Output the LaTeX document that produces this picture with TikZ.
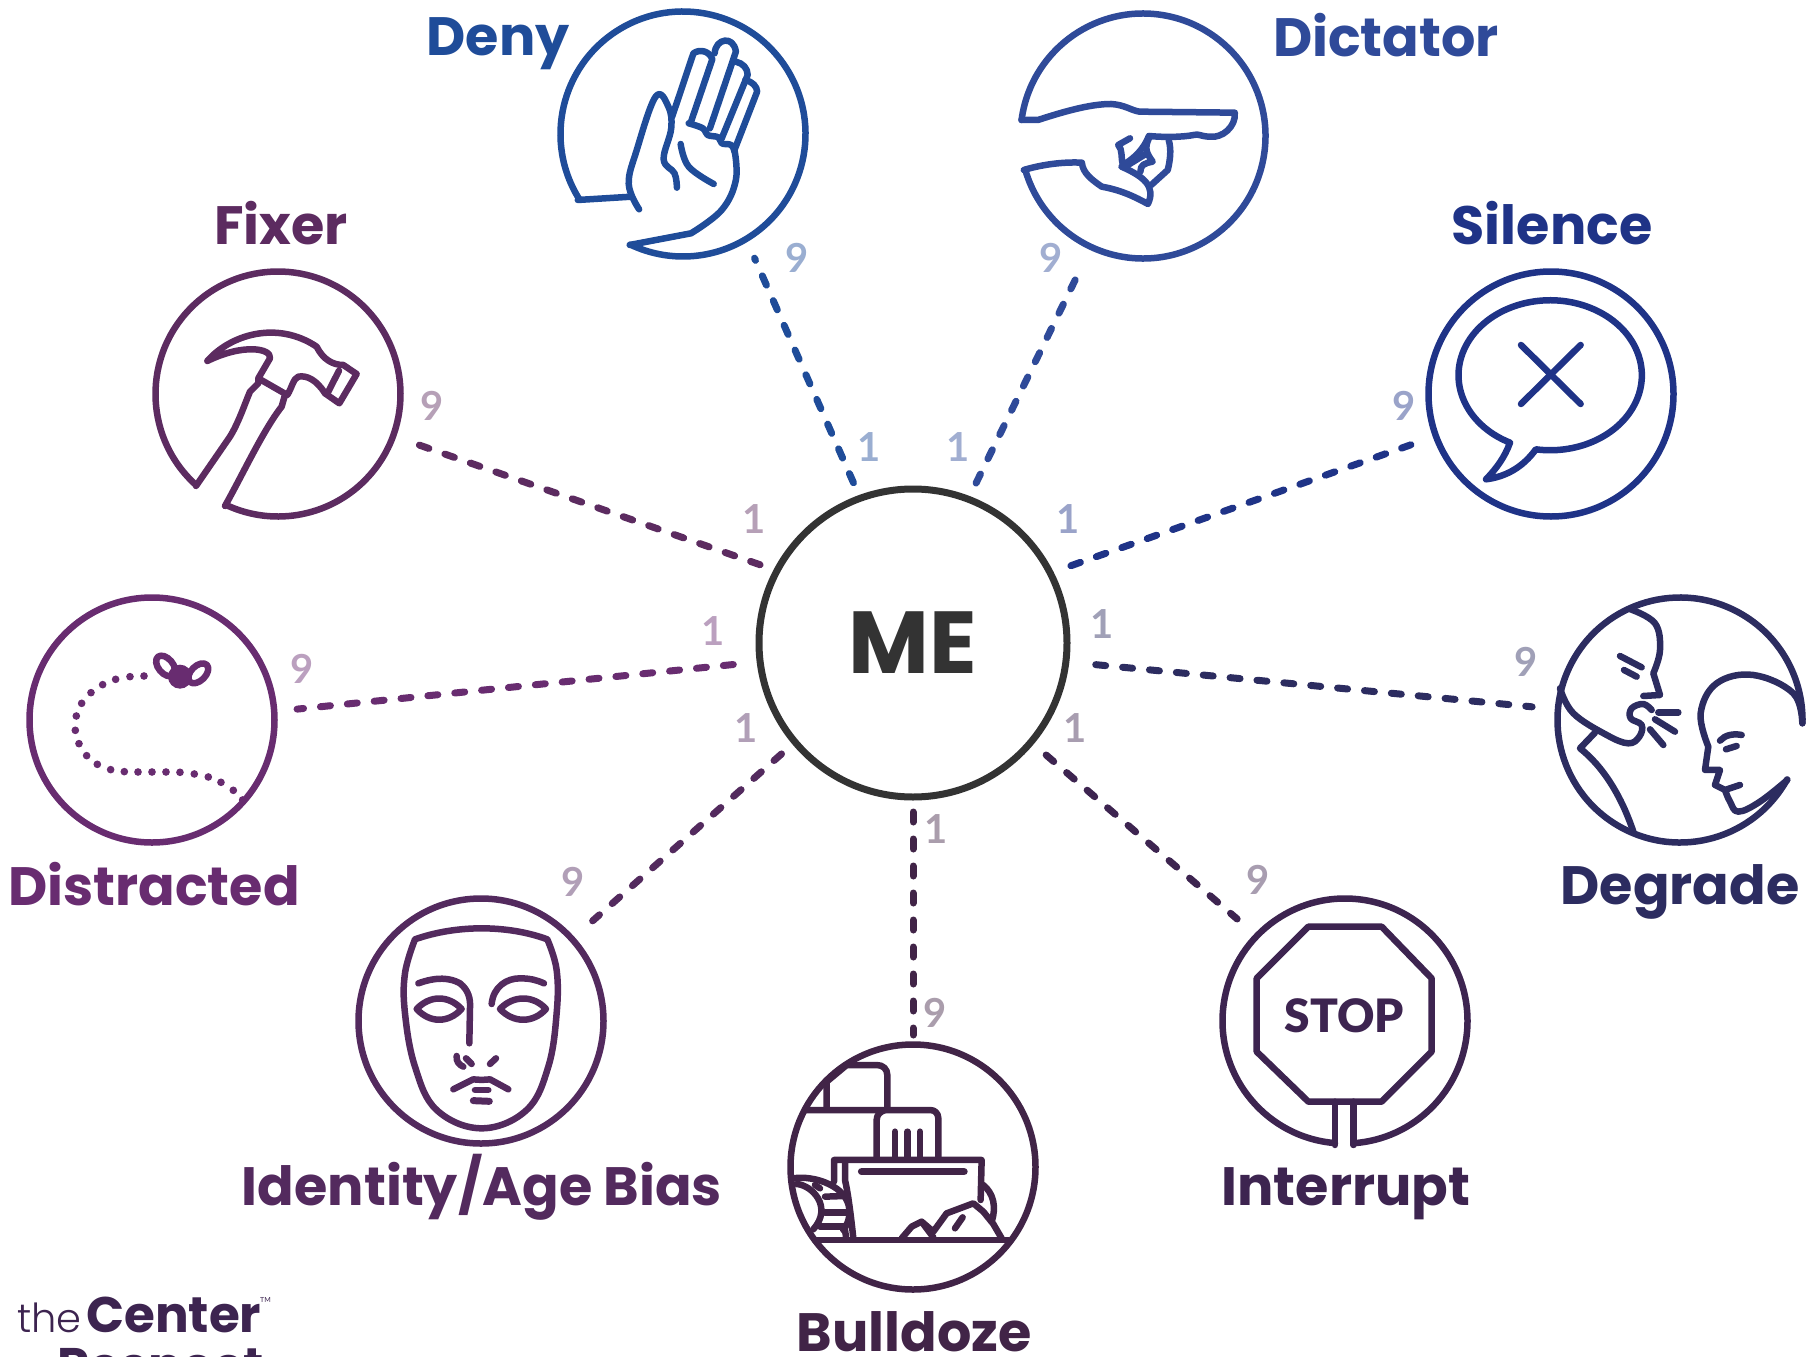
\documentclass[tikz,border=0pt]{standalone}
\usepackage{fontspec}
\setmainfont{Lato}
\newfontfamily\titlefont{Poppins}
\newfontfamily\lightfont{Poppins Light}
\newfontfamily\signfont{Lato Black}
\usetikzlibrary{positioning,calc}

\definecolor{denyc}{HTML}{1F4C99}
\definecolor{dictatorc}{HTML}{2F4A99}
\definecolor{silencec}{HTML}{1F3387}
\definecolor{degradec}{HTML}{2C2C60}
\definecolor{interruptc}{HTML}{3D2450}
\definecolor{bulldozec}{HTML}{412447}
\definecolor{identityc}{HTML}{532A5E}
\definecolor{distractedc}{HTML}{682C70}
\definecolor{fixerc}{HTML}{5C2B60}
\definecolor{mec}{HTML}{333333}

\tikzset{
  spot/.style={circle, minimum size=245pt, inner sep=0pt, outer sep=0pt},
  iconline/.style={line width=6.5pt, line cap=round, line join=round},
  link/.style={line width=7pt, line cap=round, dash pattern=on 10pt off 17pt},
  title/.style={font=\titlefont\bfseries\fontsize{54}{58}\selectfont, inner sep=0pt, anchor=base},
  digit/.style={font=\bfseries\fontsize{40}{44}\selectfont, inner sep=0pt},
  tracing/.style={tension=.65},
}

\begin{document}
\begin{tikzpicture}[x=1pt, y=-1pt, tracing]
  \useasboundingbox (0,0) rectangle (1813,1357);

  \node[circle, draw=mec, line width=7pt, minimum size=308pt, inner sep=0pt, outer sep=0pt,
    text=mec, font=\titlefont\bfseries\fontsize{88}{92}\selectfont] (me) at (913,643) {ME};

  \node[spot] (deny) at (683,134) {};
  \node[spot] (dictator) at (1143,136) {};
  \node[spot, draw=silencec, line width=6.5pt] (silence) at (1551,394) {};
  \node[spot] (degrade) at (1680,720) {};
  \node[spot] (interrupt) at (1345,1021) {};
  \node[spot, draw=bulldozec, line width=6.5pt] (bulldoze) at (913,1167) {};
  \node[spot, draw=identityc, line width=6.5pt] (identity) at (481,1021) {};
  \node[spot, draw=distractedc, line width=6.5pt] (distracted) at (152,720) {};
  \node[spot] (fixer) at (278,394) {};

  \foreach \nm/\a/\s/\b/\t in {deny/110.9/17/-59/21, dictator/69.1/18/-115.2/23.5,
      silence/27.4/22/200/26.5, degrade/-7.5/30/175.4/26, interrupt/-40.1/20/136.6/26,
      bulldoze/-90/15/90/9.5, identity/220.7/18/42.8/27.5, distracted/187.6/27/4.7/23,
      fixer/152/18/-20/25.5} {
    \draw[link, \nm c, shorten <=\s pt, shorten >=\t pt] (me.\a) -- (\nm.\b);
  }

  \foreach \nm/\x/\y/\u/\v in {deny/797/258/869/447, dictator/1051/258/958/447,
      silence/1404/406/1068/519, degrade/1526/662/1102/624, interrupt/1258/880/1075/728,
      bulldoze/935/1013/936/829, identity/573/882/746/728, distracted/302/669/713/631,
      fixer/432/406/754/519} {
    \node[digit, text=\nm c!45] (\nm nine) at (\x,\y) {9};
    \node[digit, text=\nm c!45] (\nm one) at (\u,\v) {1};
  }

  \foreach \nm/\x/\y/\txt in {deny/498/55/Deny, dictator/1386/56/Dictator, silence/1552/244/Silence,
      degrade/1680/904/Degrade, interrupt/1346/1205/Interrupt, bulldoze/914/1351/Bulldoze,
      identity/482/1205/Identity\slash Age Bias, distracted/154/905/Distracted, fixer/281/244/Fixer} {
    \node[title, text=\nm c] (\nm title) at (\x,\y) {\txt};
  }

  % hand
  \draw[iconline, denyc] (683,134) ++(148:122.5) arc[start angle=148, end angle=475.5, radius=122.5];
  \begin{scope}[shift={(540,0)}, x=0.472pt, y=-0.3333pt, iconline, denyc]
    \draw (80,600) -- (195,590);
    \draw plot[smooth] coordinates {(210,628) (188,552) (205,450) (245,290) (272,320) (278,385) (262,478) (285,520) (290,563)};
    \draw (280,350) -- (325,160) .. controls (340,145) and (360,155) .. (365,178) -- (320,365);
    \draw (370,160) .. controls (372,115) and (410,105) .. (415,155) -- (360,385);
    \draw (415,185) .. controls (430,190) and (440,205) .. (440,225) -- (385,415);
    \draw (435,240) .. controls (450,245) and (460,260) .. (460,275) -- (412,450);
    \draw plot[smooth] coordinates {(315,370) (345,385) (355,405) (378,412) (385,430) (405,435) (412,455)};
    \draw plot[smooth] coordinates {(412,450) (415,540) (385,630) (320,700)} -- (190,735);
    \draw plot[smooth] coordinates {(298,432) (315,500) (368,552)};
  \end{scope}

  % pointing hand
  \draw[iconline, dictatorc] (1143,136) ++(187.5:122.5) arc[start angle=187.5, end angle=524, radius=122.5];
  \begin{scope}[shift={(540,0)}, x=0.472pt, y=-0.3333pt, iconline, dictatorc]
    \draw (1020,360) -- (1055,360) .. controls (1120,330) and (1170,312) .. (1210,312) .. controls (1240,315) and (1250,330) .. (1270,335)
      -- (1472,338) .. controls (1475,380) and (1445,415) .. (1420,410) .. controls (1400,410) and (1395,400) .. (1385,405)
      .. controls (1360,412) and (1320,412) .. (1290,408) .. controls (1280,445) and (1260,475) .. (1235,495) .. controls (1230,470) and (1235,450) .. (1225,435) -- (1250,415);
    \draw (1290,415) .. controls (1280,445) and (1285,460) .. (1298,485) .. controls (1280,490) and (1272,495) .. (1272,515);
    \draw (1240,500) -- (1280,465);
    \draw (1232,500) .. controls (1280,530) and (1305,560) .. (1288,612) .. controls (1260,590) and (1230,570) .. (1190,560)
      .. controls (1170,540) and (1150,520) .. (1148,488) .. controls (1105,485) and (1060,495) .. (1025,510);
    \draw (1332,420) .. controls (1338,450) and (1335,480) .. (1330,510) -- (1295,555);
  \end{scope}

  % hammer
  \draw[iconline, fixerc] (278,394) ++(132:122.5) arc[start angle=132, end angle=475, radius=122.5];
  \begin{scope}[shift={(130,260)}, x=0.3333pt, y=-0.3333pt, iconline, fixerc]
    \draw (198,678) -- (300,530) .. controls (325,490) and (345,430) .. (360,395) -- (385,370) -- (385,355) -- (420,295)
      .. controls (425,265) and (340,250) .. (232,303) .. controls (300,225) and (440,180) .. (560,260)
      .. controls (580,300) and (610,315) .. (640,315) -- (680,342) -- (628,430) -- (585,400)
      .. controls (560,360) and (530,345) .. (505,350) .. controls (490,355) and (485,385) .. (472,405) -- (385,355);
    \draw (465,405) -- (455,440) .. controls (400,510) and (340,640) .. (285,738);
    \draw (627,332) -- (595,395);
  \end{scope}

  % speech bubble
  \begin{scope}[shift={(1410,260)}, x=0.3333pt, y=-0.3333pt, iconline, silencec]
    \draw (300,548) arc[start angle=116, end angle=459, x radius=275, y radius=225]
      .. controls (340,620) and (290,650) .. (228,658) .. controls (260,625) and (285,590) .. cycle;
    \draw (333,255) -- (512,432);
    \draw (512,255) -- (333,432);
  \end{scope}

  % faces
  \draw[iconline, degradec] (1680,720) ++(29:122.5) arc[start angle=29, end angle=361.5, radius=122.5];
  \begin{scope}[shift={(1540,580)}, x=0.3333pt, y=-0.3333pt, iconline, degradec]
    \draw plot[smooth] coordinates {(787,430) (760,340) (640,285) (530,310) (482,400) (505,500)} -- (495,570) -- (540,570) -- (525,615) -- (555,630) -- (600,615);
    \draw plot[smooth] coordinates {(555,630) (570,665) (595,695) (660,665) (742,600)};
    \draw plot[smooth] coordinates {(272,88) (345,130) (360,210) (340,280)} -- (360,345) -- (310,348);
    \draw plot[smooth] coordinates {(335,390) (310,372) (275,385) (272,415) (305,435) (298,470) (265,490) (200,465) (100,400) (60,325)};
    \draw (165,458) -- (120,505) .. controls (190,560) and (245,650) .. (280,755);
    \draw (240,228) -- (305,262);
    \draw (252,270) -- (290,290);
    \draw (355,397) -- (415,397);
    \draw (345,418) -- (405,455);
    \draw (330,448) -- (370,495);
    \draw (540,482) .. controls (555,465) and (580,460) .. (605,465);
    \draw (558,508) -- (590,498);
  \end{scope}

  % stop sign
  \draw[iconline, interruptc] (1345,1021) ++(94.7:122.5) arc[start angle=94.7, end angle=446, radius=122.5];
  \begin{scope}[shift={(1200,880)}, x=0.3333pt, y=-0.3333pt, iconline, interruptc]
    \draw (325,140) -- (545,140) -- (695,295) -- (695,515) -- (545,665) -- (325,665) -- (170,515) -- (170,295) -- cycle;
    \draw (405,665) -- (405,795);
    \draw (460,665) -- (460,795);
    \node[font=\signfont\fontsize{46}{50}\selectfont, text=interruptc, inner sep=0pt] (stopword) at (433,408) {STOP};
  \end{scope}

  % bulldozer
  \begin{scope}[shift={(770,1030)}, x=0.3333pt, y=-0.3333pt, iconline, bulldozec]
    \draw (170,235) -- (170,155) -- (230,105) -- (320,105) .. controls (340,105) and (352,118) .. (352,135) -- (352,235);
    \draw (105,240) -- (480,240) .. controls (495,240) and (505,250) .. (505,265) -- (505,385);
    \draw (320,385) -- (320,270) .. controls (320,255) and (330,245) .. (345,240);
    \draw (375,305) -- (375,385);
    \draw (412,305) -- (412,385);
    \draw (450,305) -- (450,385);
    \draw (192,455) -- (192,390) -- (635,390) -- (632,510);
    \draw (225,395) -- (225,450) .. controls (232,480) and (240,530) .. (250,625);
    \draw[line width=7.5pt] (275,425) -- (582,425);
    \draw (640,465) .. controls (670,490) and (680,530) .. (665,575);
    \draw (135,630) -- (715,630);
    \draw (395,625) -- (425,590) -- (455,575) -- (490,605) -- (530,550) -- (610,520) -- (640,545) -- (670,582) -- (695,625);
    \draw (460,582) -- (490,622);
    \draw (555,595) -- (578,562);
    \draw (70,445) .. controls (135,435) and (235,470) .. (238,540) .. controls (240,570) and (228,590) .. (220,600);
    \draw (80,462) .. controls (125,465) and (190,530) .. (130,598);
    \draw (135,465) -- (150,475);
    \draw (165,500) -- (225,498);
    \draw (165,548) -- (230,548);
    \draw (150,590) -- (220,590);
    \draw (225,600) -- (228,620);
  \end{scope}

  % mask
  \begin{scope}[shift={(340,880)}, x=0.3333pt, y=-0.3333pt, iconline, identityc]
    \draw plot[smooth] coordinates {(622,178) (650,270) (650,400) (625,560) (560,690) (425,745) (290,690) (225,560) (195,400) (195,280) (225,178)}
      .. controls (290,155) and (360,145) .. (425,145) .. controls (490,145) and (560,155) .. (622,178);
    \draw (235,310) .. controls (290,290) and (330,293) .. (360,310) .. controls (385,330) and (392,355) .. (390,385) -- (388,490);
    \draw (455,372) .. controls (460,320) and (500,295) .. (540,295) .. controls (570,295) and (590,300) .. (612,310);
    \draw (230,387) .. controls (270,345) and (325,345) .. (365,387) .. controls (325,430) and (270,430) .. cycle;
    \draw (480,387) .. controls (520,345) and (580,345) .. (618,387) .. controls (580,430) and (520,430) .. cycle;
    \draw (350,528) .. controls (348,545) and (358,555) .. (370,560);
    \draw (378,535) -- (395,552);
    \draw (468,535) -- (450,552);
    \draw (340,628) -- (400,598) .. controls (415,600) and (435,600) .. (450,598) -- (505,628);
    \draw (405,630) -- (445,630);
    \draw[line width=7pt] (400,662) -- (448,664);
  \end{scope}

  % fly
  \begin{scope}[shift={(0,580)}, x=0.3333pt, y=-0.3333pt, iconline, distractedc]
    \foreach \x/\y in {432/288, 390/290, 347/298, 308/314, 273/338, 245/370, 229/408, 226/451,
        237/491, 260/527, 292/553, 332/569, 373/575, 414/576, 456/576, 498/576, 540/577, 583/582,
        625/591, 663/607, 700/631, 728/660} {
      \fill (\x,\y) circle [radius=11.5];
    }
    \fill (540,290) circle [radius=36];
    \draw (497,258) ellipse [x radius=36, y radius=22, rotate=-50];
    \draw (595,280) ellipse [x radius=36, y radius=22, rotate=45];
  \end{scope}

  \node[anchor=base west, inner sep=0pt, text=interruptc, font=\lightfont\fontsize{40}{44}\selectfont] (logothe) at (17,1332) {the};
  \node[anchor=base west, inner sep=0pt, text=interruptc, font=\titlefont\bfseries\fontsize{50}{54}\selectfont] (logocenter) at (86,1332) {Center};
  \node[anchor=base west, inner sep=0pt, text=interruptc, font=\fontsize{7}{8}\selectfont] (logotm) at (260,1302) {TM};
  \node[anchor=base west, inner sep=0pt, text=interruptc, font=\titlefont\bfseries\fontsize{50}{54}\selectfont] (logorespect) at (57,1383) {Respect};
  \node[anchor=base east, inner sep=0pt, text=interruptc, font=\lightfont\fontsize{40}{44}\selectfont] (logofor) at (7,1383) {for};
\end{tikzpicture}
\end{document}
